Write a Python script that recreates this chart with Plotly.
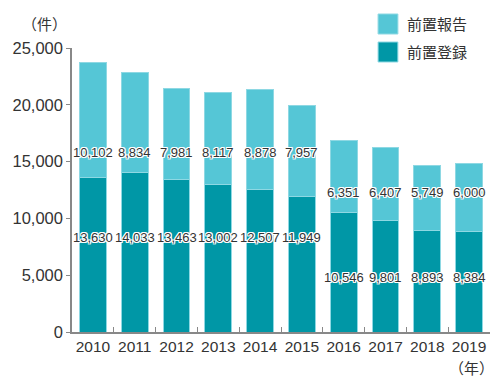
import plotly.graph_objects as go

years = ["2010", "2011", "2012", "2013", "2014", "2015", "2016", "2017", "2018", "2019"]
registration = [13630, 14033, 13463, 13002, 12507, 11949, 10546, 9801, 8893, 8834]
registration_labels = ["13,630", "14,033", "13,463", "13,002", "12,507", "11,949", "10,546", "9,801", "8,893", "8,384"]
report = [10102, 8834, 7981, 8117, 8878, 7957, 6351, 6407, 5749, 6000]
report_labels = ["10,102", "8,834", "7,981", "8,117", "8,878", "7,957", "6,351", "6,407", "5,749", "6,000"]
y_ticks = [0, 5000, 10000, 15000, 20000, 25000]
y_tick_text = ["0", "5,000", "10,000", "15,000", "20,000", "25,000"]

DARK = "#0097A6"
LIGHT = "#55C6D6"
EDGE = "#8ED8E3"
TXT = "#333333"
NUM_FONT = "Liberation Sans, Arial, sans-serif"
JP_FONT = "Noto Sans CJK JP, sans-serif"

W, H = 504, 383
ML, MR, MT, MB = 68, 14, 48, 51
PW, PH = W - ML - MR, H - MT - MB


def px(xp, yp):
    # pixel position -> paper coordinates (relative to plot area)
    return (xp - ML) / PW, (H - MB - yp) / PH


fig = go.Figure()
fig.add_bar(x=years, y=registration, name="前置登録", marker=dict(color=DARK, line=dict(color=EDGE, width=1)),
            width=0.64, showlegend=False, hoverinfo="skip")
fig.add_bar(x=years, y=report, name="前置報告", marker=dict(color=LIGHT, line=dict(color=EDGE, width=1)),
            width=0.64, showlegend=False, hoverinfo="skip")

halo = ("1px 1px 0 #fff, -1px -1px 0 #fff, 1px -1px 0 #fff, -1px 1px 0 #fff, "
        "0 1px 0 #fff, 0 -1px 0 #fff, 1px 0 0 #fff, -1px 0 0 #fff")
annotations = []
for i, (r, rl, p, pl) in enumerate(zip(registration, registration_labels, report, report_labels)):
    tall = r + p > 18000
    dark_level = 8280 if tall else 4840
    light_level = 15800 if tall else 12240
    for lvl, txt in ((dark_level, rl), (light_level, pl)):
        annotations.append(dict(x=i, y=lvl, xref="x", yref="y", text=txt, showarrow=False,
                                font=dict(family=NUM_FONT, size=13, color=TXT, shadow=halo)))

ax, ay = px(40, 24)
annotations.append(dict(x=ax, y=ay, xref="paper", yref="paper", text="（件）", showarrow=False,
                        xanchor="center", yanchor="middle", font=dict(family=JP_FONT, size=15, color=TXT)))
bx, by = px(471, 367)
annotations.append(dict(x=bx, y=by, xref="paper", yref="paper", text="（年）", showarrow=False,
                        xanchor="center", yanchor="middle", font=dict(family=JP_FONT, size=15, color=TXT)))

shapes = []
legend_items = [("前置報告", LIGHT, 14), ("前置登録", DARK, 42)]
for name, col, top in legend_items:
    x0, y1 = px(377, top)
    x1, y0 = px(397, top + 20)
    shapes.append(dict(type="rect", xref="paper", yref="paper", x0=x0, x1=x1, y0=y0, y1=y1,
                       fillcolor=col, line=dict(color=EDGE, width=1)))
    tx, ty = px(404, top + 10)
    annotations.append(dict(x=tx, y=ty, xref="paper", yref="paper", text=name, showarrow=False,
                            xanchor="left", yanchor="middle", font=dict(family=JP_FONT, size=15, color=TXT)))

fig.update_layout(
    width=W, height=H,
    barmode="stack",
    paper_bgcolor="white", plot_bgcolor="white",
    margin=dict(l=ML, r=MR, t=MT, b=MB),
    annotations=annotations,
    shapes=shapes,
    showlegend=False,
    xaxis=dict(type="category", range=[-0.5, 9.5], showline=True, linecolor="#888888", linewidth=1.5,
               ticks="inside", ticklen=5, tickcolor="#888888", tickson="boundaries", tickangle=0,
               tickfont=dict(family=NUM_FONT, size=15.5, color=TXT), showgrid=False, fixedrange=True),
    yaxis=dict(range=[0, 25000], tickvals=y_ticks, ticktext=y_tick_text, showline=True,
               linecolor="#888888", linewidth=1.5, ticks="outside", ticklen=4, tickcolor="#888888",
               tickfont=dict(family=NUM_FONT, size=16.5, color=TXT), showgrid=False, zeroline=False,
               fixedrange=True),
)

fig.write_html("out.html", config={"displayModeBar": False},
               post_script="document.body.style.margin='0';document.body.style.overflow='hidden';")
